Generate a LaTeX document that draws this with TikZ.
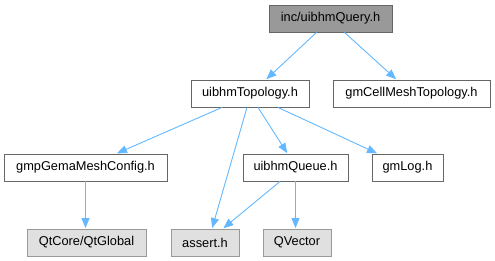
\documentclass[tikz,border=0pt]{standalone}
\usepackage{fontspec}
\setmainfont{Liberation Sans}
\usepackage{xcolor}
\usetikzlibrary{arrows.meta,calc}
\definecolor{edgeblue}{RGB}{99, 184, 255}
\definecolor{rootfill}{RGB}{153, 153, 153}
\definecolor{rootline}{RGB}{102, 102, 102}
\definecolor{extfill}{RGB}{224, 224, 224}
\definecolor{extline}{RGB}{153, 153, 153}

\tikzset{
    file/.style={draw=rootline, line width=0.9pt, fill=white, minimum height=27pt, inner xsep=0pt,
        font=\fontsize{12.8}{15}\selectfont},
    rootfile/.style={file, fill=rootfill},
    extfile/.style={file, draw=extline, fill=extfill},
    dep/.style={draw=edgeblue, line width=0.9pt, -{Triangle[length=10pt,width=8pt]}, shorten >=0.5pt},
}

\begin{document}
\begin{tikzpicture}[x=1pt, y=-1pt]
    \useasboundingbox (0,0) rectangle (495,261);
    % nodes, one row per level
    \node[rootfile, minimum width=123pt] (query) at (330.5, 18.5) {inc/uibhmQuery.h};
    \node[file, minimum width=118pt] (topology) at (250, 93.5) {uibhmTopology.h};
    \node[file, minimum width=157pt] (cellmesh) at (411.5, 93.5) {gmCellMeshTopology.h};
    \node[file, minimum width=163pt] (meshconfig) at (85.5, 167.5) {gmpGemaMeshConfig.h};
    \node[file, minimum width=105pt] (queue) at (295.5, 167.5) {uibhmQueue.h};
    \node[file, minimum width=71pt] (gmlog) at (407.5, 167.5) {gmLog.h};
    \node[extfile, minimum width=119pt] (qtglobal) at (86.5, 242.5) {QtCore/QtGlobal};
    \node[extfile, minimum width=68pt] (assert) at (205, 242.5) {assert.h};
    \node[extfile, minimum width=68pt] (qvector) at (297, 242.5) {QVector};

    % include edges
    \draw[dep] ($(query.south)+(-14,0)$) -- ($(topology.north)+(16,0)$);
    \draw[dep] ($(query.south)+(14,0)$) -- ($(cellmesh.north)+(-15,0)$);
    \draw[dep] ($(topology.south)+(-28,0)$) -- ($(meshconfig.north)+(31,0)$);
    \draw[dep] ($(topology.south)+(-3,0)$) -- ($(assert.north)+(7,0)$);
    \draw[dep] ($(topology.south)+(8,0)$) -- ($(queue.north)+(-8,0)$);
    \draw[dep] ($(topology.south)+(28,0)$) -- ($(gmlog.north)+(-30,0)$);
    \draw[dep] (meshconfig.south) -- (meshconfig.south |- qtglobal.north);
    \draw[dep] ($(queue.south)+(-15.5,0)$) -- ($(assert.north)+(18,0)$);
    \draw[dep] (queue.south) -- (queue.south |- qvector.north);
\end{tikzpicture}
\end{document}
